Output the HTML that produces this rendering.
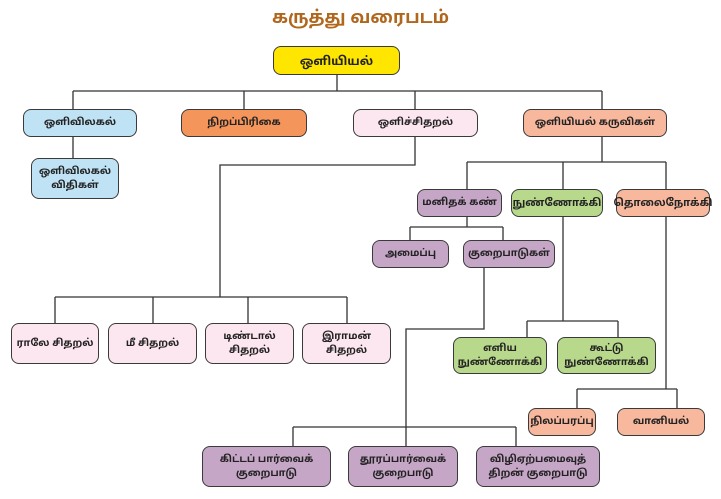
<!DOCTYPE html>
<html>
<head>
<meta charset="utf-8">
<style>
  html, body { margin:0; padding:0; background:#fff; }
  body { width:721px; height:499px; position:relative; overflow:hidden;
         font-family: "Liberation Sans", "Noto Sans Tamil", "Lohit Tamil", "DejaVu Sans", sans-serif; }
  .title { position:absolute; left:0; width:721px; top:5px; text-align:center;
           font-size:17.5px; font-weight:bold; color:#b0661c; line-height:24px; }
  .b { position:absolute; box-sizing:border-box; border:1.6px solid #3a3a3a; border-radius:8px;
       display:flex; align-items:center; justify-content:center; text-align:center;
       font-size:10px; font-weight:bold; color:#222; line-height:14px; white-space:nowrap; }
  .y { background:#ffe600; }
  .bl { background:#bfe3f5; }
  .or { background:#f4955c; }
  .pk { background:#fce6ef; }
  .sa { background:#f8b89e; }
  .pu { background:#c6a6c6; }
  .gr { background:#b8d98c; }
  svg { position:absolute; left:0; top:0; }
</style>
</head>
<body>
<div class="title">கருத்து வரைபடம்</div>

<svg width="721" height="499" viewBox="0 0 721 499">
  <g stroke="#333" stroke-width="1.3" fill="none">
    <path d="M337 75 V91"/>
    <path d="M73 91 H602"/>
    <path d="M73 91 V109 M244 91 V109 M415 91 V109 M602 91 V109"/>
    <path d="M73 137 V158"/>
    <path d="M415 137 V165 H220 V297"/>
    <path d="M55 297 H347"/>
    <path d="M55 297 V323 M153 297 V323 M248 297 V323 M347 297 V323"/>
    <path d="M602 137 V162"/>
    <path d="M467 162 H666"/>
    <path d="M467 162 V189 M563 162 V189 M666 162 V189"/>
    <path d="M467 217 V227 M410 227 H503 M410 227 V240 M503 227 V240"/>
    <path d="M484 268 V329 H406 V446"/>
    <path d="M293 427 H516 M293 427 V446 M516 427 V446"/>
    <path d="M563 217 V321 M527 321 H618 M527 321 V337 M618 321 V337"/>
    <path d="M666 217 V389 M577 389 H677 M577 389 V408 M677 389 V408"/>
  </g>
</svg>

<div class="b y" style="left:273px;top:46px;width:127px;height:29px;font-size:12px;">ஒளியியல்</div>

<div class="b bl" style="left:23px;top:109px;width:114px;height:28px;">ஒளிவிலகல்</div>
<div class="b or" style="left:181px;top:109px;width:126px;height:28px;">நிறப்பிரிகை</div>
<div class="b pk" style="left:353px;top:109px;width:125px;height:28px;">ஒளிச்சிதறல்</div>
<div class="b sa" style="left:523px;top:109px;width:144px;height:28px;">ஒளியியல் கருவிகள்</div>

<div class="b bl" style="left:31px;top:158px;width:88px;height:41px;">ஒளிவிலகல்<br>விதிகள்</div>

<div class="b pu" style="left:417px;top:189px;width:85px;height:28px;">மனிதக் கண்</div>
<div class="b gr" style="left:511px;top:189px;width:92px;height:28px;font-size:10.5px;">நுண்ணோக்கி</div>
<div class="b sa" style="left:616px;top:189px;width:94px;height:28px;font-size:10.5px;">தொலைநோக்கி</div>

<div class="b pu" style="left:372px;top:240px;width:77px;height:28px;">அமைப்பு</div>
<div class="b pu" style="left:463px;top:240px;width:92px;height:28px;">குறைபாடுகள்</div>

<div class="b pk" style="left:11px;top:323px;width:88px;height:41px;">ராலே சிதறல்</div>
<div class="b pk" style="left:108px;top:323px;width:89px;height:41px;">மீ சிதறல்</div>
<div class="b pk" style="left:205px;top:323px;width:89px;height:41px;">டிண்டால்<br>சிதறல்</div>
<div class="b pk" style="left:302px;top:323px;width:89px;height:41px;">இராமன்<br>சிதறல்</div>

<div class="b gr" style="left:453px;top:337px;width:94px;height:37px;">எளிய<br>நுண்ணோக்கி</div>
<div class="b gr" style="left:557px;top:337px;width:99px;height:37px;">கூட்டு<br>நுண்ணோக்கி</div>

<div class="b sa" style="left:528px;top:408px;width:68px;height:28px;">நிலப்பரப்பு</div>
<div class="b sa" style="left:617px;top:408px;width:88px;height:28px;">வானியல்</div>

<div class="b pu" style="left:202px;top:446px;width:129px;height:41px;">கிட்டப் பார்வைக்<br>குறைபாடு</div>
<div class="b pu" style="left:348px;top:446px;width:110px;height:41px;">தூரப்பார்வைக்<br>குறைபாடு</div>
<div class="b pu" style="left:476px;top:446px;width:124px;height:41px;">விழிஏற்பமைவுத்<br>திறன் குறைபாடு</div>
</body>
</html>
